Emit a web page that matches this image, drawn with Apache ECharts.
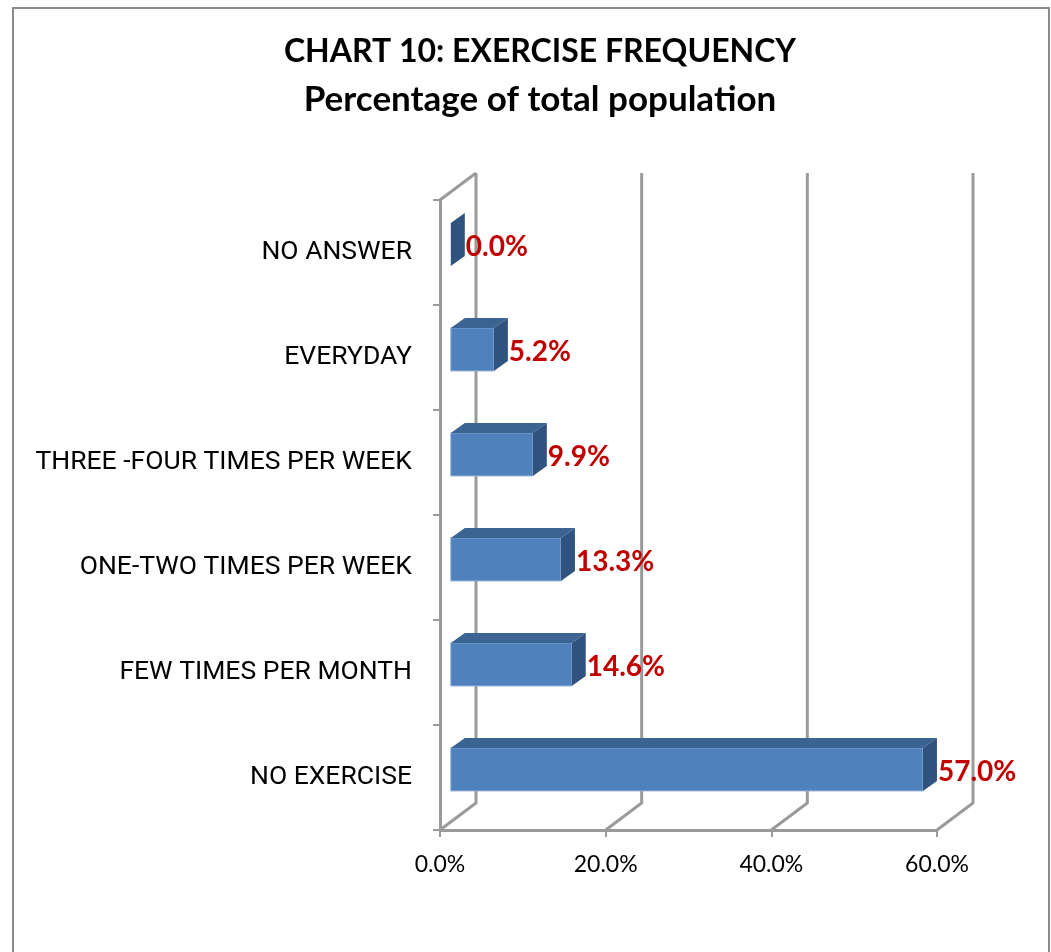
<!DOCTYPE html>
<html>
<head>
<meta charset="utf-8">
<script src="https://cdn.jsdelivr.net/npm/echarts@6/dist/echarts.min.js"></script>
<style>
  html, body { margin: 0; padding: 0; background: #fff; }
  #chart { width: 1051px; height: 952px; }
</style>
</head>
<body>
<div id="chart"></div>
<script>
// data
const categories = [
  "NO ANSWER",
  "EVERYDAY",
  "THREE -FOUR TIMES PER WEEK",
  "ONE-TWO TIMES PER WEEK",
  "FEW TIMES PER MONTH",
  "NO EXERCISE"
];
const percentValues = [0.0, 5.2, 9.9, 13.3, 14.6, 57.0];
const xTicks = [0, 20, 40, 60];

// fake 3d: how far the back wall sits from the front plane
const WALL_DX = 36;
const WALL_DY = -27;
const BAR_FRONT = 0.3; // bar starts 30% into the depth
const BAR_DX = 14;
const BAR_DY = -10;

const lineColor = "#9a9a9a";
const titleFont = "Lato, 'Open Sans', sans-serif";

const chart = echarts.init(document.getElementById("chart"));

function renderWalls(params, api) {
  const cs = params.coordSys;
  const v = api.value(0);
  const x = api.coord([v, 0])[0];
  const top = cs.y;
  const bottom = cs.y + cs.height;
  const children = [
    {
      type: "polyline",
      shape: {
        points: [
          [x, bottom],
          [x + WALL_DX, bottom + WALL_DY],
          [x + WALL_DX, top + WALL_DY]
        ]
      },
      style: { stroke: lineColor, lineWidth: 3, fill: null }
    }
  ];
  if (v === 0) {
    children.push({
      type: "line",
      shape: { x1: x, y1: top, x2: x + WALL_DX, y2: top + WALL_DY },
      style: { stroke: lineColor, lineWidth: 3 }
    });
  }
  return { type: "group", children: children };
}

function renderBar(params, api) {
  const val = api.value(0);
  const idx = api.value(1);
  const c0 = api.coord([0, idx]);
  const c1 = api.coord([val, idx]);
  const band = api.size([0, 1])[1];
  const h = band * 0.41;
  const ox = WALL_DX * BAR_FRONT;
  const oy = WALL_DY * BAR_FRONT;
  const x0 = c0[0] + ox;
  const x1 = c1[0] + ox;
  const yTop = c0[1] + oy - h / 2;
  const yBot = yTop + h;
  return {
    type: "group",
    children: [
      {
        type: "rect",
        shape: { x: x0, y: yTop, width: x1 - x0, height: h },
        style: { fill: "#4f81bd", stroke: "#8fb0da", lineWidth: x1 - x0 > 2 ? 1 : 0 }
      },
      {
        type: "polygon",
        shape: {
          points: [
            [x0, yTop],
            [x1, yTop],
            [x1 + BAR_DX, yTop + BAR_DY],
            [x0 + BAR_DX, yTop + BAR_DY]
          ]
        },
        style: { fill: "#3c6493" }
      },
      {
        type: "polygon",
        shape: {
          points: [
            [x1, yTop],
            [x1 + BAR_DX, yTop + BAR_DY],
            [x1 + BAR_DX, yBot + BAR_DY],
            [x1, yBot]
          ]
        },
        style: { fill: "#30527f" }
      },
      {
        type: "text",
        style: {
          x: x1 + BAR_DX + 1,
          y: (yTop + yBot) / 2 + 3,
          text: val.toFixed(1) + "%",
          fill: "#c00000",
          font: "bold 28px Lato, 'Open Sans', sans-serif",
          verticalAlign: "middle",
          align: "left"
        }
      }
    ]
  };
}

const option = {
  backgroundColor: "#ffffff",
  animation: false,
  title: [
    {
      text: "CHART 10: EXERCISE FREQUENCY",
      left: 535,
      textAlign: "center",
      top: 31,
      textStyle: { fontFamily: titleFont, fontWeight: "bold", fontSize: 32, color: "#000" }
    },
    {
      text: "Percentage of total population",
      left: 535,
      textAlign: "center",
      top: 77,
      textStyle: { fontFamily: titleFont, fontWeight: "bold", fontSize: 35, color: "#000" }
    }
  ],
  graphic: [
    {
      type: "rect",
      shape: { x: 13, y: 8, width: 1036, height: 960 },
      style: { fill: null, stroke: "#8a8a8a", lineWidth: 2 },
      silent: true
    }
  ],
  grid: {
    left: 440,
    top: 200,
    width: 497,
    height: 630,
    containLabel: false
  },
  xAxis: {
    type: "value",
    min: 0,
    max: 60,
    interval: 20,
    axisLine: { show: true, lineStyle: { color: lineColor, width: 3 } },
    axisTick: { show: true, length: 7, lineStyle: { color: lineColor, width: 2 } },
    splitLine: { show: false },
    axisLabel: {
      margin: 23,
      color: "#000",
      fontFamily: titleFont,
      fontSize: 23,
      formatter: (v) => v.toFixed(1) + "%"
    }
  },
  yAxis: {
    type: "category",
    data: categories,
    inverse: true,
    axisLine: { show: true, lineStyle: { color: lineColor, width: 3 } },
    axisTick: { show: true, length: 7, lineStyle: { color: lineColor, width: 2 } },
    splitLine: { show: false },
    axisLabel: {
      margin: 28,
      color: "#000",
      fontFamily: "'Liberation Sans Narrow', 'Arial Narrow', Roboto, sans-serif",
      fontSize: 26.5,
      padding: [8, 0, 0, 0]
    }
  },
  series: [
    {
      name: "walls",
      type: "custom",
      z: 1,
      silent: true,
      renderItem: renderWalls,
      data: xTicks.map((t) => [t, 0]),
      encode: { x: 0, y: 1 }
    },
    {
      name: "share",
      type: "custom",
      z: 3,
      renderItem: renderBar,
      data: percentValues.map((v, i) => [v, i]),
      encode: { x: 0, y: 1 }
    }
  ]
};

chart.setOption(option);
</script>
</body>
</html>
